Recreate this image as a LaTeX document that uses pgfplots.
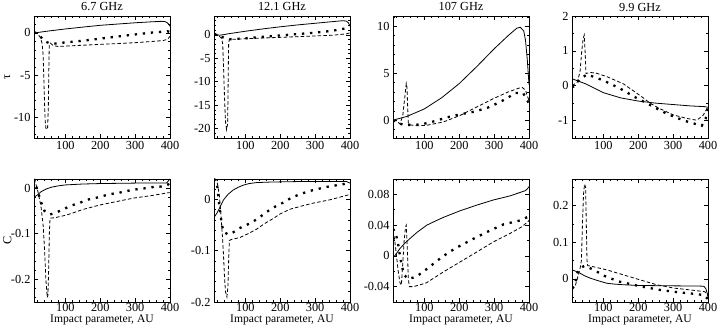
\documentclass[border=0pt]{standalone}
\usepackage{fontspec}
\setmainfont{Liberation Serif}
\usepackage{pgfplots}
\pgfplotsset{compat=1.18}
\pgfplotsset{
  panel/.style={scale only axis, width=136pt, xmin=10, xmax=400,
    xtick={0,100,200,300,400}, minor x tick num=4,
    tick align=inside, tick pos=both, scaled y ticks=false, scaled x ticks=false,
    /pgf/number format/assume math mode=true,
    yticklabel style={/pgf/number format/fixed, /pgf/number format/precision=2},
    axis line style={line width=0.7pt},
    every tick/.style={black, line width=0.5pt},
    major tick length=4pt, minor tick length=2.2pt,
    anchor=south west,
    tick label style={font=\fontsize{12.3}{14}\selectfont},
    every axis title shift=0pt,
    title style={at={(axis description cs:0.5,1)}, anchor=base, yshift=5pt, font=\fontsize{12.3}{14}\selectfont},
    ylabel style={at={(axis description cs:-0.196,0.5)}, anchor=center, font=\fontsize{12.3}{14}\selectfont},
    xlabel style={at={(axis description cs:0.5,-0.168)}, anchor=base, font=\fontsize{11.6}{13}\selectfont},
  },
  toprow/.style={panel, height=122pt},
  botrow/.style={panel, height=123pt, xlabel={Impact parameter, AU}, xticklabel style={yshift=2.5pt}},
  solidc/.style={black, line width=0.8pt},
  dashc/.style={black, line width=0.8pt, dash pattern=on 3.5pt off 2.2pt},
  dotc/.style={black, line width=2.3pt, dash pattern=on 2.3pt off 5.8pt},
}
\begin{document}
\begin{tikzpicture}
\useasboundingbox (0,0) rectangle (720pt,329pt);
% ---------- Panel 1: 6.7 GHz tau
\begin{axis}[toprow, at={(34pt,191pt)}, title={6.7 GHz}, ylabel={τ},
  ymin=-12.4, ymax=2, ytick={-15,-10,-5,0,5}, minor y tick num=4]
\addplot[solidc] coordinates {(10,-0.05)(20,0.05)(50,0.22)(100,0.47)(150,0.69)(200,0.9)(250,1.05)(300,1.2)(350,1.32)(375,1.37)(385,1.35)(392,1.2)(397,1.0)(400,0.8)};
\addplot[dashc] coordinates {(10,0.1)(20,-0.1)(28,-0.5)(33,-1.2)(36,-2.5)(38,-5)(40,-8)(42,-10.3)(44,-11.2)(46,-11.4)(49,-11.2)(51,-9)(52,-6)(53,-3)(54,-1.3)(57,-1.2)(65,-1.5)(80,-1.6)(100,-1.55)(150,-1.45)(200,-1.35)(250,-1.25)(300,-1.15)(350,-1.0)(380,-0.9)(393,-0.75)(400,-0.4)};
\addplot[dotc] coordinates {(10,0.1)(20,-0.1)(30,-0.5)(40,-1.0)(55,-1.2)(70,-1.25)(100,-1.12)(150,-0.92)(200,-0.67)(250,-0.42)(300,-0.18)(350,0.05)(380,0.15)(393,0.2)(400,0.1)};
\end{axis}
% ---------- Panel 2: 12.1 GHz tau
\begin{axis}[toprow, at={(214pt,191pt)}, title={12.1 GHz},
  ymin=-22, ymax=4, ytick={-25,-20,-15,-10,-5,0,5}, minor y tick num=4]
\addplot[solidc] coordinates {(10,0.2)(25,-0.1)(40,0.05)(50,0.2)(100,0.75)(150,1.25)(200,1.7)(250,2.1)(300,2.45)(350,2.8)(380,3.0)(390,2.9)(396,2.5)(400,1.8)};
\addplot[dashc] coordinates {(10,0.2)(25,-0.3)(32,-0.8)(35,-2)(37,-6)(40,-13)(43,-18.5)(46,-20.2)(49,-19)(50,-14)(51,-7)(52,-2)(54,-0.95)(70,-0.95)(100,-0.85)(150,-0.7)(200,-0.55)(250,-0.4)(300,-0.25)(350,-0.1)(390,0.2)(400,0.4)};
\addplot[dotc] coordinates {(10,0.2)(25,-0.2)(40,-0.7)(56,-0.95)(100,-0.75)(150,-0.45)(200,-0.15)(250,0.15)(300,0.45)(350,0.85)(390,1.4)(400,1.5)};
\end{axis}
% ---------- Panel 3: 107 GHz tau
\begin{axis}[toprow, at={(393pt,191pt)}, title={107 GHz},
  ymin=-1.9, ymax=11.1, ytick={-5,0,5,10,15}, minor y tick num=4]
\addplot[solidc] coordinates {(10,0)(50,0.4)(100,1.2)(150,2.4)(200,3.9)(250,5.7)(300,7.6)(340,9.0)(365,9.8)(375,9.9)(385,9.5)(390,8.5)(395,6.5)(400,3.8)};
\addplot[dashc] coordinates {(10,0)(20,-0.1)(30,-0.4)(38,0.5)(44,2.5)(48,3.9)(50,3.5)(52,1.5)(54,-0.3)(58,-0.5)(80,-0.6)(106,-0.55)(154,-0.2)(202,0.5)(250,1.4)(298,2.3)(340,3.0)(370,3.4)(380,3.5)(390,3.2)(395,2.6)(400,2.1)};
\addplot[dotc] coordinates {(10,0)(25,-0.3)(40,-0.5)(70,-0.5)(92,-0.45)(130,-0.1)(165,0.3)(200,0.6)(242,0.9)(280,1.3)(315,1.9)(340,2.4)(360,2.9)(383,2.9)(395,2.1)(400,1.8)};
\end{axis}
% ---------- Panel 4: 9.9 GHz tau
\begin{axis}[toprow, at={(572pt,191pt)}, title={9.9 GHz},
  ymin=-1.5, ymax=2, ytick={-2,-1,0,1,2}, minor y tick num=1]
\addplot[solidc] coordinates {(10,0.2)(50,0.05)(100,-0.2)(150,-0.35)(200,-0.44)(250,-0.5)(300,-0.54)(350,-0.58)(390,-0.6)(400,-0.62)};
\addplot[dashc] coordinates {(10,0.0)(25,0.1)(33,0.4)(38,1.0)(42,1.35)(45,1.45)(48,0.9)(50,0.35)(62,0.38)(80,0.36)(110,0.26)(158,0.05)(205,-0.28)(234,-0.5)(260,-0.65)(301,-0.84)(340,-0.94)(368,-0.99)(386,-0.85)(400,-0.6)};
\addplot[dotc] coordinates {(10,-0.05)(18,0)(31,0.17)(52,0.32)(74,0.25)(100,0.15)(146,-0.07)(193,-0.34)(239,-0.58)(283,-0.81)(331,-1.0)(382,-1.15)(393,-0.95)(400,-0.65)};
\end{axis}
% ---------- Panel 5: 6.7 GHz C
\begin{axis}[botrow, at={(34pt,27pt)}, ylabel={C},
  ymin=-0.25, ymax=0.02, ytick={-0.3,-0.2,-0.1,0,0.1}, minor y tick num=4]
\addplot[solidc] coordinates {(10,-0.02)(20,-0.015)(30,-0.008)(45,-0.002)(60,0.002)(80,0.005)(100,0.007)(150,0.009)(200,0.01)(300,0.011)(390,0.011)(400,0.02)};
\addplot[dashc] coordinates {(10,0.02)(15,0.01)(22,-0.01)(30,-0.04)(36,-0.08)(40,-0.13)(44,-0.2)(48,-0.24)(50,-0.235)(52,-0.18)(54,-0.1)(56,-0.066)(70,-0.065)(104,-0.059)(150,-0.047)(199,-0.037)(250,-0.029)(295,-0.022)(350,-0.016)(396,-0.01)(400,-0.01)};
\addplot[dotc] coordinates {(10,0.02)(20,-0.005)(30,-0.03)(40,-0.05)(55,-0.058)(70,-0.055)(95,-0.046)(118,-0.038)(142,-0.032)(166,-0.025)(190,-0.021)(214,-0.016)(238,-0.012)(261,-0.009)(285,-0.005)(309,-0.002)(333,0.0)(357,0.003)(381,0.0035)(395,0.008)(400,0.015)};
\end{axis}
% ---------- Panel 6: 12.1 GHz C
\begin{axis}[botrow, at={(214pt,27pt)},
  ymin=-0.2, ymax=0.04, ytick={-0.3,-0.2,-0.1,0,0.1}, minor y tick num=4]
\addplot[solidc] coordinates {(10,-0.035)(18,-0.027)(25,-0.018)(37,-0.001)(50,0.01)(65,0.0185)(80,0.024)(94,0.028)(110,0.031)(132,0.033)(170,0.034)(250,0.035)(350,0.035)(390,0.035)(400,0.032)};
\addplot[dashc] coordinates {(10,0.04)(18,0.038)(25,0.01)(30,-0.03)(34,-0.07)(37,-0.105)(40,-0.15)(43,-0.18)(47,-0.19)(50,-0.17)(52,-0.12)(54,-0.08)(60,-0.078)(85,-0.074)(110,-0.066)(132,-0.058)(155,-0.047)(180,-0.037)(200,-0.028)(228,-0.019)(260,-0.013)(295,-0.007)(340,-0.001)(390,0.008)(400,0.01)};
\addplot[dotc] coordinates {(10,0.04)(18,0.035)(25,-0.011)(32,-0.046)(37,-0.063)(50,-0.068)(61,-0.066)(83,-0.056)(118,-0.045)(142,-0.034)(166,-0.022)(190,-0.012)(212,-0.005)(233,0.004)(256,0.01)(280,0.016)(305,0.02)(328,0.024)(355,0.027)(381,0.03)(400,0.032)};
\end{axis}
% ---------- Panel 7: 107 GHz C
\begin{axis}[botrow, at={(393pt,27pt)},
  ymin=-0.06, ymax=0.1, ytick={-0.08,-0.04,0,0.04,0.08,0.12}, minor y tick num=1]
\addplot[solidc] coordinates {(10,-0.001)(15,0.0)(30,0.0096)(45,0.017)(59,0.0227)(80,0.031)(107,0.04)(130,0.045)(154,0.05)(202,0.0586)(250,0.066)(297,0.0726)(345,0.078)(389,0.0847)(395,0.087)(400,0.09)};
\addplot[dashc] coordinates {(10,0.033)(15,0.02)(20,0.0)(25,-0.02)(30,-0.035)(34,-0.038)(38,-0.01)(42,0.02)(46,0.038)(48,0.04)(51,0.01)(54,-0.03)(57,-0.04)(68,-0.04)(85,-0.038)(106,-0.035)(130,-0.028)(154,-0.021)(202,-0.008)(250,0.005)(297,0.018)(345,0.029)(380,0.038)(393,0.043)(400,0.046)};
\addplot[dotc] coordinates {(10,0.035)(17,0.031)(25,0.015)(30,0.0)(35,-0.012)(42,-0.025)(54,-0.03)(70,-0.028)(83,-0.025)(110,-0.016)(145,-0.0034)(165,0.003)(188,0.0096)(231,0.02)(279,0.031)(327,0.041)(374,0.046)(398,0.051)(400,0.052)};
\end{axis}
% ---------- Panel 8: 9.9 GHz C
\begin{axis}[botrow, at={(572pt,27pt)},
  ymin=-0.063, ymax=0.272, ytick={-0.1,0,0.1,0.2,0.3}, minor y tick num=1]
\addplot[solidc] coordinates {(10,0.0245)(20,0.021)(33,0.0155)(45,0.009)(62,0.002)(85,-0.005)(110,-0.012)(135,-0.0145)(157,-0.016)(200,-0.018)(300,-0.019)(370,-0.0195)(388,-0.02)(394,-0.027)(398,-0.04)(400,-0.05)};
\addplot[dashc] coordinates {(10,-0.03)(19,-0.02)(25,0.0)(33,0.028)(37,0.05)(40,0.15)(43,0.23)(46,0.258)(49,0.25)(51,0.15)(53,0.05)(55,0.036)(62,0.035)(85,0.03)(110,0.0245)(157,0.011)(205,-0.0027)(253,-0.016)(301,-0.025)(348,-0.03)(391,-0.035)(400,-0.045)};
\addplot[dotc] coordinates {(10,-0.025)(19,-0.016)(25,0.0155)(35,0.03)(45,0.035)(60,0.03)(81,0.02)(95,0.012)(110,0.005)(148,-0.008)(205,-0.02)(262,-0.03)(310,-0.036)(363,-0.041)(387,-0.044)(400,-0.055)};
\end{axis}
\end{tikzpicture}
\end{document}
